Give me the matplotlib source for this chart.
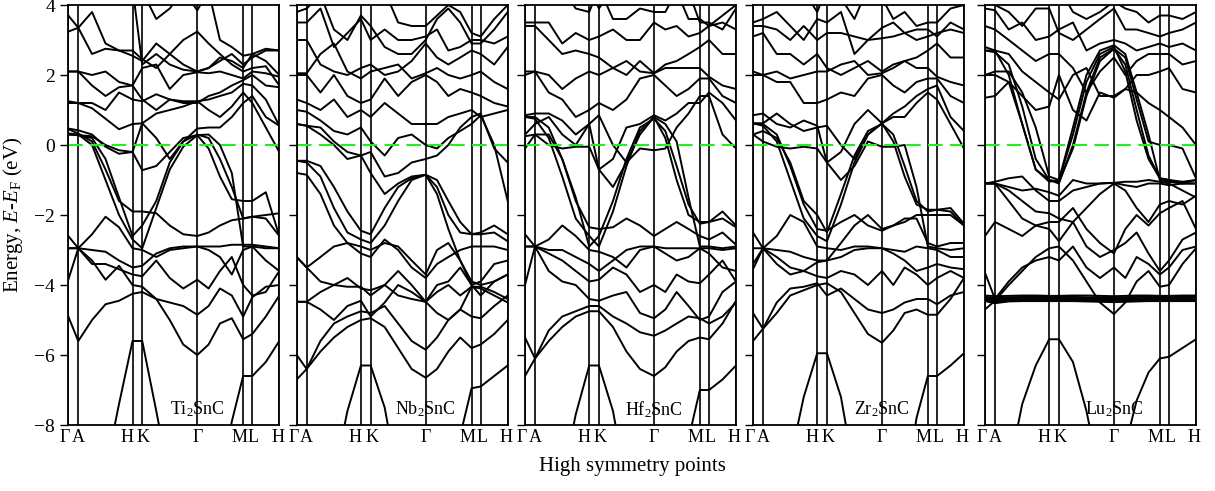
import numpy as np
import matplotlib.pyplot as plt
from matplotlib.transforms import ScaledTranslation

plt.rcParams['font.family'] = ['Liberation Serif', 'DejaVu Serif']
plt.rcParams['mathtext.fontset'] = 'custom'
plt.rcParams['mathtext.rm'] = 'Liberation Serif'
plt.rcParams['mathtext.it'] = 'Liberation Serif:italic'

# k-path: high symmetry points and sample positions along the path
kpts = [0, 0.185, 1.19, 1.37, 2.39, 3.24, 3.41, 3.91]
klabels = ['\u0393', 'A', 'H', 'K', '\u0393', 'M', 'L', 'H']
ksample = [0, 0.185, 0.44, 0.69, 0.94, 1.19, 1.37, 1.63, 1.88, 2.13,
           2.39, 2.6, 2.81, 3.03, 3.24, 3.41, 3.66, 3.91]

# band energies (eV) read at ksample, one list per band
ti2snc = [
    [-11, -11, -11, -9.3, -7.4, -5.6, -5.6, -7.6, -9.6, -11, -11, -11, -10, -7.9, -6.6, -6.6, -6.2, -5.6],
    [-4.9, -5.6, -5.0, -4.55, -4.45, -4.25, -4.2, -4.4, -5.0, -5.7, -6.0, -5.7, -5.1, -4.95, -5.55, -5.4, -4.9, -4.3],
    [-3.85, -2.95, -3.3, -3.85, -3.45, -4.0, -4.05, -4.4, -4.5, -4.6, -4.85, -4.6, -4.1, -4.3, -4.9, -4.35, -4.05, -4.0],
    [-2.6, -2.95, -3.4, -3.4, -3.55, -3.7, -3.75, -3.3, -3.8, -4.1, -3.85, -4.1, -3.6, -3.2, -4.0, -4.3, -4.2, -3.6],
    [-2.95, -2.95, -2.55, -2.05, -2.35, -2.95, -3.0, -3.2, -3.0, -2.95, -2.9, -3.0, -3.2, -3.7, -3.0, -2.9, -3.3, -3.6],
    [-2.95, -2.95, -3.0, -3.05, -3.3, -3.5, -3.45, -3.1, -2.95, -2.9, -2.9, -2.9, -2.9, -2.85, -2.85, -2.85, -2.9, -2.95],
    [0.45, 0.33, 0.1, -0.7, -1.6, -1.9, -1.9, -1.95, -2.3, -2.55, -2.6, -2.5, -2.3, -2.15, -2.1, -2.05, -2.0, -1.95],
    [0.33, 0.3, 0.0, -1.0, -2.0, -2.7, -2.95, -1.8, -0.7, -0.05, 0.28, -0.1, -0.9, -1.55, -1.6, -1.6, -1.35, -2.6],
    [0.3, 0.28, 0.2, -0.4, -1.5, -2.6, -2.3, -1.6, -0.5, 0.1, 0.3, 0.2, -0.4, -1.2, -2.1, -2.05, -2.1, -2.6],
    [0.3, 0.28, 0.25, 0.0, -0.15, -0.2, -0.72, -0.6, -0.2, 0.2, 0.28, 0.3, 0.0, -0.8, -2.9, -2.9, -2.95, -2.95],
    [0.47, 0.42, 0.3, -0.05, -0.25, -0.2, 0.62, 0.2, -0.4, 0.1, 0.47, 0.5, 0.5, 0.8, 1.2, 1.4, 0.8, 0.55],
    [1.25, 1.2, 1.05, 0.75, 0.45, 0.6, 0.62, 0.9, 1.0, 1.1, 1.25, 1.0, 0.8, 1.1, 1.5, 1.2, 0.5, -0.2],
    [1.2, 1.2, 1.2, 1.0, 1.5, 1.3, 1.25, 1.45, 1.3, 1.2, 1.2, 1.4, 1.5, 1.7, 1.85, 2.0, 1.7, 1.65],
    [2.1, 2.1, 1.7, 1.4, 1.65, 1.7, 1.3, 1.0, 1.3, 1.25, 1.25, 1.3, 1.4, 1.5, 1.75, 1.7, 1.3, 0.55],
    [2.1, 2.1, 2.0, 2.1, 1.8, 1.7, 2.2, 2.3, 1.6, 2.0, 2.08, 2.05, 2.1, 2.0, 1.9, 2.1, 2.05, 1.95],
    [3.24, 3.35, 2.6, 2.75, 2.7, 2.55, 2.4, 2.9, 2.6, 2.3, 2.1, 2.2, 2.5, 2.4, 2.2, 2.6, 2.4, 2.0],
    [3.7, 3.35, 3.8, 2.9, 2.7, 2.7, 2.45, 2.2, 2.6, 3.0, 3.24, 2.9, 2.6, 2.3, 2.1, 2.2, 2.25, 1.7],
    [4.3, 4.1, 4.3, 4.5, 4.5, 4.4, 4.4, 3.6, 3.9, 4.4, 3.85, 4.4, 3.0, 2.8, 2.55, 2.6, 2.75, 2.7],
    [4.5, 4.5, 4.5, 4.6, 4.6, 4.5, 2.3, 2.6, 2.3, 2.15, 2.1, 2.2, 2.4, 2.6, 2.3, 2.5, 2.7, 2.7],
]

nb2snc = [
    [-11, -11, -11, -9.5, -7.6, -6.3, -6.3, -7.5, -9.6, -11, -11, -11, -10, -8.3, -6.95, -6.9, -6.6, -6.3],
    [-6.0, -6.4, -5.9, -5.5, -5.2, -5.0, -4.95, -5.2, -5.8, -6.4, -6.65, -6.4, -5.9, -5.5, -5.8, -5.7, -5.4, -5.0],
    [-6.7, -6.4, -5.6, -5.1, -4.9, -4.75, -4.8, -4.6, -5.1, -5.6, -5.85, -5.5, -5.0, -4.7, -4.9, -4.95, -4.6, -4.3],
    [-4.48, -4.48, -4.2, -4.0, -4.05, -4.05, -4.3, -4.0, -4.3, -4.4, -4.48, -4.2, -4.0, -4.3, -4.05, -4.05, -4.2, -4.4],
    [-4.48, -4.48, -4.7, -5.0, -4.6, -4.45, -4.9, -4.5, -4.0, -4.2, -4.48, -4.8, -5.0, -4.7, -4.05, -4.1, -4.3, -4.5],
    [-3.2, -3.5, -3.9, -4.0, -3.8, -4.1, -4.15, -4.0, -3.6, -4.0, -4.48, -4.0, -3.9, -3.5, -4.0, -4.3, -3.9, -3.7],
    [-3.2, -3.5, -3.2, -2.9, -2.8, -2.9, -3.0, -2.8, -2.9, -3.3, -3.7, -3.0, -2.8, -3.3, -4.0, -3.9, -3.4, -3.3],
    [-0.8, -0.85, -1.4, -2.3, -2.8, -3.1, -3.2, -2.7, -3.0, -3.5, -3.8, -3.4, -3.2, -3.0, -2.9, -2.9, -2.9, -3.0],
    [-0.45, -0.5, -0.9, -1.8, -2.5, -2.7, -2.8, -2.3, -1.6, -1.0, -0.85, -1.4, -2.4, -3.3, -3.9, -4.0, -3.9, -3.7],
    [-0.45, -0.45, -0.6, -1.2, -1.9, -2.45, -2.55, -1.8, -1.2, -0.95, -0.85, -1.2, -2.0, -2.5, -2.55, -2.55, -2.5, -2.75],
    [0.6, 0.55, 0.3, 0.0, -0.4, -0.3, -0.8, -1.4, -1.1, -0.9, -0.85, -1.0, -1.6, -2.2, -2.55, -2.5, -2.3, -2.55],
    [0.6, 0.55, 0.5, 0.1, -0.2, -0.3, -0.2, -0.9, -0.8, -0.5, -0.4, -0.3, 0.0, 0.5, 0.8, 0.9, -0.1, -0.5],
    [1.0, 0.95, 0.7, 0.4, 0.3, 0.5, 0.1, -0.3, 0.2, 0.3, 0.0, -0.1, 0.2, 0.4, 0.6, 0.85, 0.0, -1.6],
    [1.3, 1.2, 1.0, 1.3, 0.8, 1.0, 0.8, 1.2, 0.9, 0.6, 0.6, 0.6, 0.8, 0.9, 1.0, 0.8, 0.9, 1.0],
    [2.0, 2.0, 1.5, 2.0, 1.4, 1.2, 1.3, 1.9, 1.4, 1.8, 2.0, 1.8, 1.4, 1.6, 1.5, 1.4, 1.2, 1.1],
    [2.05, 2.05, 2.6, 2.9, 2.1, 1.9, 2.1, 2.2, 2.3, 1.9, 2.05, 2.2, 2.0, 1.9, 2.0, 2.1, 1.8, 1.6],
    [3.0, 3.0, 2.3, 2.1, 2.0, 2.2, 2.3, 2.0, 2.1, 2.4, 2.9, 2.5, 2.3, 2.5, 2.7, 2.6, 2.3, 2.8],
    [3.5, 3.5, 3.9, 2.8, 3.2, 3.6, 3.0, 3.3, 3.0, 3.0, 3.1, 3.3, 2.7, 2.8, 3.0, 3.0, 2.9, 3.1],
    [3.8, 3.9, 4.3, 3.3, 3.0, 3.7, 3.4, 2.8, 2.6, 2.6, 3.0, 3.6, 3.9, 3.5, 2.9, 2.9, 3.3, 3.8],
    [4.5, 4.5, 4.5, 4.4, 4.5, 4.1, 4.5, 4.4, 3.5, 3.4, 3.4, 3.7, 4.0, 3.8, 3.2, 3.1, 3.6, 4.0],
]

hf2snc = [
    [-11, -11, -11, -9.6, -7.7, -6.3, -6.3, -7.6, -9.7, -11, -11, -11, -10, -8.4, -7.0, -7.0, -6.7, -6.3],
    [-6.6, -6.1, -5.6, -5.2, -4.9, -4.75, -4.75, -5.2, -5.9, -6.4, -6.6, -6.35, -5.9, -5.6, -5.5, -5.55, -5.1, -4.45],
    [-5.5, -6.1, -5.3, -4.9, -4.75, -4.6, -4.6, -4.9, -5.1, -5.35, -5.45, -5.3, -5.1, -4.9, -4.95, -5.1, -4.9, -4.5],
    [-4.0, -2.9, -3.6, -3.9, -4.0, -4.4, -4.45, -4.3, -4.2, -4.8, -4.95, -4.7, -4.2, -4.6, -5.0, -4.9, -4.2, -3.9],
    [-2.55, -2.9, -3.1, -3.3, -3.6, -3.9, -3.85, -3.5, -3.7, -4.2, -4.0, -4.2, -3.7, -3.9, -3.95, -3.7, -3.3, -3.9],
    [-2.9, -2.9, -2.7, -2.3, -2.6, -3.0, -3.05, -3.2, -3.5, -3.0, -2.9, -3.1, -3.3, -3.2, -2.95, -3.1, -3.5, -3.6],
    [-2.9, -2.9, -3.0, -3.0, -3.2, -3.4, -3.6, -3.3, -3.0, -2.9, -2.9, -2.95, -2.95, -2.95, -2.95, -2.95, -3.0, -2.95],
    [0.8, 0.8, 0.5, -0.4, -1.6, -2.35, -2.4, -2.35, -2.1, -2.3, -2.6, -2.4, -2.2, -2.4, -2.6, -2.7, -2.5, -2.85],
    [0.8, 0.75, 0.2, -0.9, -2.1, -2.6, -2.9, -1.9, -0.6, 0.4, 0.8, 0.2, -1.0, -2.0, -2.2, -2.2, -1.9, -2.3],
    [0.25, 0.3, 0.3, -0.4, -1.5, -2.9, -2.6, -1.6, -0.4, 0.5, 0.75, 0.4, -0.6, -1.7, -2.25, -2.2, -2.1, -2.35],
    [-0.1, 0.3, 0.0, -0.1, -0.05, -0.05, -0.7, -1.2, -0.5, 0.3, 0.8, 0.6, 0.1, -1.5, -2.9, -2.9, -2.95, -2.9],
    [0.3, 0.6, 0.8, 0.3, 0.0, 0.6, 0.85, 0.0, -0.5, -0.1, -0.15, -0.1, 0.5, 0.9, 1.4, 1.4, 0.3, -0.1],
    [0.85, 0.9, 0.9, 0.7, 0.3, 0.6, -0.7, -0.4, 0.5, 0.6, 0.85, 0.7, 0.9, 1.2, 1.2, 1.5, 1.2, 0.7],
    [2.0, 2.1, 1.5, 1.3, 0.8, 1.0, 1.2, 1.0, 1.3, 1.9, 2.0, 1.7, 1.4, 1.6, 1.9, 1.9, 1.4, 1.2],
    [2.1, 2.1, 2.0, 1.6, 1.9, 2.1, 2.0, 2.2, 2.4, 2.1, 2.05, 2.2, 2.2, 2.2, 2.2, 1.95, 1.7, 1.6],
    [3.4, 3.4, 3.0, 2.6, 2.7, 2.6, 2.5, 2.2, 2.0, 2.4, 2.05, 2.3, 2.4, 2.6, 2.8, 3.0, 2.6, 2.6],
    [3.5, 3.5, 3.5, 2.9, 3.2, 3.0, 3.1, 3.3, 3.0, 3.0, 3.5, 3.3, 3.4, 3.1, 3.2, 3.4, 3.5, 3.3],
    [4.3, 4.3, 4.3, 4.5, 3.9, 3.8, 4.5, 3.6, 3.6, 3.9, 3.8, 3.8, 4.4, 3.6, 3.6, 3.4, 3.7, 4.0],
    [4.5, 4.5, 4.6, 4.5, 4.5, 4.5, 3.9, 4.5, 4.5, 4.5, 4.5, 4.4, 4.4, 4.4, 3.5, 3.5, 3.3, 3.9],
]

zr2snc = [
    [-11, -11, -11, -9.0, -7.2, -5.95, -5.95, -7.2, -9.4, -11, -11, -11, -10, -7.8, -6.6, -6.6, -6.3, -5.95],
    [-5.6, -5.25, -4.8, -4.3, -4.15, -4.0, -3.95, -4.2, -4.8, -5.4, -5.65, -5.3, -4.8, -4.7, -4.85, -4.85, -4.4, -3.8],
    [-4.8, -5.25, -4.5, -4.1, -4.05, -3.95, -4.3, -4.1, -4.4, -4.7, -4.8, -4.7, -4.5, -4.4, -4.4, -4.55, -4.3, -4.2],
    [-3.55, -2.95, -3.4, -3.7, -3.6, -3.75, -3.8, -3.6, -3.7, -4.0, -3.6, -4.0, -3.5, -3.7, -4.0, -3.8, -3.6, -3.8],
    [-2.5, -2.95, -2.6, -2.0, -2.2, -2.9, -2.95, -3.0, -2.9, -2.9, -2.95, -3.0, -3.05, -2.9, -2.95, -3.0, -3.2, -3.2],
    [-2.95, -2.95, -3.0, -3.05, -3.2, -3.3, -3.3, -3.2, -3.0, -2.95, -2.95, -3.1, -3.3, -3.6, -3.5, -3.4, -3.5, -3.55],
    [-3.4, -2.95, -3.2, -3.5, -3.6, -3.35, -3.3, -2.8, -2.3, -2.0, -2.4, -2.3, -2.2, -2.0, -2.0, -2.0, -2.0, -2.3],
    [0.62, 0.6, 0.3, -0.6, -1.7, -2.4, -2.45, -2.2, -2.0, -2.3, -2.45, -2.3, -2.1, -2.1, -2.8, -2.9, -2.8, -2.8],
    [0.62, 0.55, 0.1, -1.0, -2.1, -2.6, -2.75, -1.7, -0.5, 0.3, 0.62, 0.1, -0.9, -1.7, -1.85, -1.85, -1.8, -2.25],
    [0.3, 0.4, 0.2, -0.5, -1.6, -2.0, -2.5, -1.4, -0.3, 0.4, 0.6, 0.3, -0.6, -1.6, -1.9, -1.85, -1.9, -2.3],
    [0.3, 0.1, -0.05, -0.1, -0.05, -0.1, -0.5, -1.0, -0.6, 0.1, -0.05, -0.05, 0.0, -1.2, -2.9, -2.95, -3.0, -2.95],
    [0.62, 0.62, 0.9, 0.6, 0.4, 0.5, 0.55, 0.0, -0.4, 0.3, 0.62, 0.8, 0.8, 1.2, 1.5, 1.3, 0.6, -0.1],
    [0.85, 0.9, 0.6, 0.5, 0.7, 0.55, -0.5, -0.2, 0.6, 1.0, 0.62, 0.9, 1.1, 1.4, 1.6, 1.7, 0.8, 0.4],
    [2.1, 2.0, 1.8, 1.8, 1.2, 1.2, 1.3, 1.5, 1.4, 1.9, 2.0, 1.7, 1.5, 1.8, 1.9, 1.9, 1.4, 1.2],
    [2.0, 2.0, 2.1, 1.9, 2.0, 2.1, 2.1, 2.3, 2.4, 2.0, 2.05, 2.2, 2.4, 2.2, 2.2, 1.95, 1.8, 1.7],
    [3.1, 3.2, 2.6, 2.6, 2.3, 2.6, 2.2, 2.0, 2.2, 2.4, 2.1, 2.3, 2.4, 2.5, 2.7, 2.9, 2.5, 2.5],
    [3.4, 3.4, 3.3, 3.0, 3.4, 3.0, 3.2, 3.2, 3.1, 3.0, 3.05, 3.1, 3.2, 3.0, 3.1, 3.2, 3.3, 3.2],
    [3.5, 3.6, 3.8, 3.4, 3.0, 3.6, 3.5, 3.8, 2.6, 3.0, 3.35, 3.5, 3.2, 3.3, 3.3, 3.1, 3.5, 3.3],
    [4.4, 4.3, 4.5, 4.5, 4.4, 3.8, 4.5, 4.2, 3.6, 4.5, 4.2, 3.6, 3.8, 3.4, 3.5, 3.5, 3.9, 4.0],
]

lu2snc = [
    [-11, -11, -9.3, -7.4, -6.3, -5.55, -5.55, -6.2, -7.6, -9.5, -11, -8.6, -7.3, -6.5, -6.1, -6.05, -5.8, -5.55],
    [-4.30, -4.32, -4.31, -4.30, -4.30, -4.31, -4.31, -4.30, -4.30, -4.31, -4.32, -4.31, -4.30, -4.30, -4.31, -4.31, -4.30, -4.30],
    [-4.34, -4.37, -4.35, -4.34, -4.34, -4.34, -4.34, -4.34, -4.35, -4.35, -4.36, -4.35, -4.34, -4.34, -4.34, -4.34, -4.34, -4.34],
    [-4.37, -4.41, -4.38, -4.37, -4.37, -4.37, -4.37, -4.38, -4.38, -4.38, -4.40, -4.38, -4.38, -4.37, -4.37, -4.37, -4.37, -4.37],
    [-4.40, -4.45, -4.41, -4.40, -4.40, -4.40, -4.40, -4.41, -4.41, -4.42, -4.43, -4.42, -4.41, -4.40, -4.40, -4.40, -4.40, -4.40],
    [-4.43, -4.49, -4.44, -4.43, -4.43, -4.43, -4.43, -4.44, -4.44, -4.45, -4.46, -4.45, -4.44, -4.43, -4.43, -4.43, -4.43, -4.43],
    [-4.46, -4.52, -4.47, -4.46, -4.46, -4.46, -4.46, -4.46, -4.47, -4.48, -4.49, -4.48, -4.47, -4.46, -4.46, -4.46, -4.46, -4.46],
    [-4.7, -4.45, -4.0, -3.6, -3.2, -2.95, -2.9, -3.3, -3.9, -4.5, -4.83, -4.5, -3.9, -3.6, -4.05, -4.0, -3.4, -2.95],
    [-3.65, -4.4, -3.9, -3.5, -3.3, -3.2, -3.3, -2.9, -3.5, -3.8, -3.5, -3.8, -3.2, -3.4, -3.7, -3.5, -3.0, -2.9],
    [-2.6, -2.2, -2.4, -2.6, -2.3, -2.4, -2.75, -2.2, -2.9, -3.2, -3.0, -2.8, -2.5, -3.1, -3.6, -3.3, -2.7, -2.5],
    [-1.1, -1.1, -1.6, -2.1, -2.3, -2.2, -2.2, -1.8, -2.4, -2.8, -3.1, -2.4, -2.0, -2.3, -1.95, -1.8, -1.6, -2.4],
    [-1.1, -1.1, -1.3, -1.6, -1.9, -1.95, -2.1, -2.2, -1.8, -1.4, -1.1, -1.3, -1.8, -2.2, -1.7, -1.6, -1.7, -1.45],
    [-1.1, -1.05, -0.95, -0.9, -1.3, -1.6, -1.6, -1.3, -1.2, -1.1, -1.08, -1.15, -1.2, -1.1, -1.1, -1.15, -1.1, -1.1],
    [-1.1, -1.1, -1.2, -1.3, -1.25, -1.35, -1.45, -1.0, -1.1, -1.1, -1.08, -1.05, -1.05, -1.0, -1.05, -1.1, -1.3, -1.5],
    [2.7, 2.7, 2.0, 0.6, -0.7, -1.05, -1.0, 0.3, 1.8, 2.6, 2.8, 2.1, 0.7, -0.4, -0.95, -1.0, -1.1, -1.0],
    [2.7, 2.65, 2.3, 1.1, -0.4, -1.0, -1.05, -0.1, 1.4, 2.4, 2.75, 2.5, 1.3, 0.1, 0.0, 0.0, -0.1, -0.95],
    [2.0, 2.0, 1.8, 0.6, -0.7, -1.0, -1.1, 0.0, 1.5, 2.5, 2.75, 2.3, 1.0, -0.3, -0.95, -1.0, -1.05, -1.0],
    [2.0, 2.1, 2.1, 1.5, 0.5, -0.9, -1.0, 0.5, 2.0, 2.7, 2.85, 2.6, 1.5, 0.3, -1.0, -1.05, -1.1, -1.1],
    [1.35, 1.4, 1.8, 1.4, 1.0, 1.1, 2.0, 1.0, 0.7, 1.5, 1.35, 1.6, 1.5, 1.2, 1.0, 0.8, 0.5, 0.0],
    [2.8, 2.7, 2.6, 2.1, 1.8, 1.5, 1.3, 2.0, 2.2, 1.4, 1.4, 1.6, 2.0, 2.0, 2.1, 2.2, 1.6, 1.5],
    [3.4, 3.3, 3.0, 2.7, 2.4, 2.6, 2.6, 2.2, 1.5, 2.1, 2.5, 2.0, 2.4, 2.6, 2.6, 2.6, 2.3, 2.4],
    [3.9, 3.85, 3.3, 3.5, 3.0, 3.1, 3.3, 3.5, 2.7, 2.9, 3.0, 2.9, 2.7, 2.8, 2.9, 2.8, 2.9, 2.7],
    [4.2, 4.0, 3.8, 3.4, 3.9, 3.9, 3.2, 3.0, 3.3, 3.6, 3.9, 3.3, 3.3, 3.2, 3.1, 3.2, 3.3, 3.5],
    [4.5, 4.5, 4.5, 4.2, 4.5, 4.5, 4.5, 3.8, 3.6, 3.8, 4.1, 3.9, 3.8, 3.5, 3.7, 3.7, 3.6, 3.8],
]

panels = [(ti2snc, 'Ti$_2$SnC'), (nb2snc, 'Nb$_2$SnC'), (hf2snc, 'Hf$_2$SnC'),
          (zr2snc, 'Zr$_2$SnC'), (lu2snc, 'Lu$_2$SnC')]

# how each k label sits relative to its line (alignment, shift in px)
klabel_pos = [('right', 2), ('center', 0), ('right', 1), ('center', 1),
              ('center', 0), ('right', 4), ('center', 1), ('center', -1.5)]

fig = plt.figure(figsize=(12.15, 4.91), dpi=100)
lefts = [68.3, 296.7, 525, 753, 985]
W, H = 1215.0, 491.0

for i, (bands, name) in enumerate(panels):
    ax = fig.add_axes([lefts[i] / W, 66 / H, 211 / W, 420 / H])
    for b in bands:
        ax.plot(ksample, b, color='black', lw=1.4)
    for k in kpts:
        ax.axvline(k, color='black', lw=1.2)
    ax.axhline(0, color='#22ee22', lw=1.5, dashes=(7, 3.5))
    ax.set_xlim(kpts[0], kpts[-1])
    ax.set_ylim(-8, 4)
    ax.set_xticks([])
    for k, lab, (ha, dx) in zip(kpts, klabels, klabel_pos):
        tr = ax.get_xaxis_transform() + ScaledTranslation(dx / 100, -4 / 100, fig.dpi_scale_trans)
        ax.text(k, 0, lab, transform=tr, ha=ha, va='top', fontsize=13)
    ax.set_yticks([-8, -6, -4, -2, 0, 2, 4])
    ax.tick_params(axis='y', direction='out', length=6, width=1, labelsize=14)
    if i > 0:
        ax.set_yticklabels([])
    else:
        ax.set_ylabel('Energy, $E$-$E_\\mathrm{F}$ (eV)', fontsize=15)
        ax.yaxis.set_label_coords(-0.205, 0.5)
    for s in ax.spines.values():
        s.set_linewidth(1.3)
    ax.text(kpts[4], -7.55, name, ha='center', va='center', fontsize=13)

fig.text(632 / W, 1 - 467 / H, 'High symmetry points', ha='center', va='center', fontsize=15)

fig.savefig('out.png', dpi=100)
